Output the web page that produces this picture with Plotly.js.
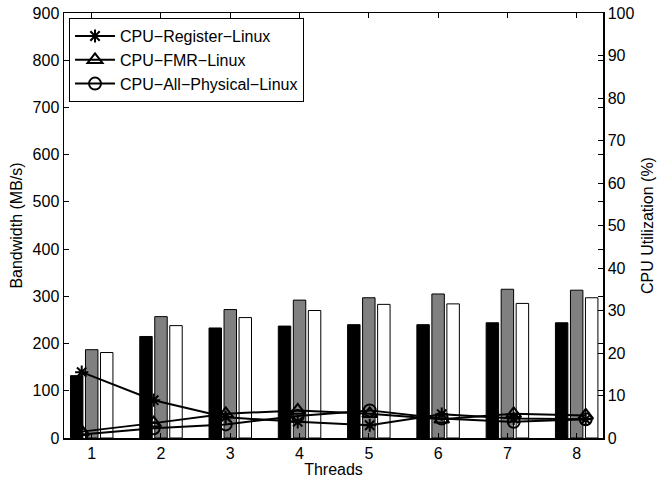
<!DOCTYPE html>
<html>
<head>
<meta charset="utf-8">
<script src="https://cdn.plot.ly/plotly-3.0.1.min.js"></script>
<style>html,body{margin:0;padding:0;background:#fff;}#chart{width:663px;height:479px;}</style>
</head>
<body>
<div id="chart"></div>
<script>
// Data
var threads = [1, 2, 3, 4, 5, 6, 7, 8];
// Bandwidth bars (MB/s)
var bwBlack = [132, 215, 233, 237, 240, 240, 244, 244];
var bwGray  = [187, 257, 272, 292, 297, 305, 315, 313];
var bwWhite = [181, 238, 255, 270, 283, 284, 285, 297];
// CPU utilization lines (%)
var cpuRegister = [15.5, 8.9, 4.9, 3.8, 3.0, 5.6, 4.6, 4.4];
var cpuFMR      = [1.5, 3.5, 5.7, 6.5, 5.7, 4.4, 5.7, 5.3];
var cpuPhysical = [0.8, 2.3, 3.2, 5.2, 6.5, 4.6, 3.8, 4.4];
var seriesNames = ['CPU\u2212Register\u2212Linux', 'CPU\u2212FMR\u2212Linux', 'CPU\u2212All\u2212Physical\u2212Linux'];

var fontFam = 'Liberation Sans, Arial, Helvetica, sans-serif';
var barLine = {color: '#000', width: 1};
var traces = [
  {type: 'bar', x: threads, y: bwBlack, marker: {color: '#000', line: barLine}, showlegend: false, xaxis: 'x', yaxis: 'y', hoverinfo: 'skip'},
  {type: 'bar', x: threads, y: bwGray, marker: {color: '#808080', line: barLine}, showlegend: false, xaxis: 'x', yaxis: 'y', hoverinfo: 'skip'},
  {type: 'bar', x: threads, y: bwWhite, marker: {color: '#ffffff', line: barLine}, showlegend: false, xaxis: 'x', yaxis: 'y', hoverinfo: 'skip'},
  {type: 'scatter', mode: 'lines+markers', name: seriesNames[0], x: threads, y: cpuRegister, xaxis: 'x2', yaxis: 'y2',
   line: {color: '#000', width: 2}, marker: {symbol: 'asterisk-open', size: 11, color: '#000', line: {color: '#000', width: 2}}},
  {type: 'scatter', mode: 'lines+markers', name: seriesNames[1], x: threads, y: cpuFMR, xaxis: 'x2', yaxis: 'y2',
   line: {color: '#000', width: 2}, marker: {symbol: 'triangle-up-open', size: 13, color: '#000', line: {color: '#000', width: 2}}},
  {type: 'scatter', mode: 'lines+markers', name: seriesNames[2], x: threads, y: cpuPhysical, xaxis: 'x2', yaxis: 'y2',
   line: {color: '#000', width: 2}, marker: {symbol: 'circle-open', size: 12, color: '#000', line: {color: '#000', width: 2}}}
];

var layout = {
  width: 663, height: 479,
  margin: {l: 64, r: 60, t: 13, b: 41, pad: 0},
  paper_bgcolor: '#fff', plot_bgcolor: '#fff',
  font: {family: fontFam, size: 16, color: '#000'},
  barmode: 'group', bargap: 0.35, bargroupgap: 0.17,
  showlegend: true,
  legend: {x: 0.0093, y: 0.988, xanchor: 'left', yanchor: 'top', bgcolor: '#fff', bordercolor: '#000', borderwidth: 1,
           font: {family: fontFam, size: 16, color: '#000'}, tracegroupgap: 0, itemwidth: 40},
  xaxis: {range: [0.6, 8.38], tickvals: threads, ticktext: threads.map(String), ticks: 'inside', ticklen: 5, tickcolor: '#000',
          showline: true, linecolor: '#000', linewidth: 1.5, mirror: 'ticks', showgrid: false, zeroline: false,
          tickfont: {size: 16}, title: {text: 'Threads', standoff: 3, font: {family: fontFam, size: 16}}},
  xaxis2: {range: [0.754, 8.24], overlaying: 'x', anchor: 'y', visible: false, showgrid: false, zeroline: false},
  yaxis: {range: [0, 900], dtick: 100, ticks: 'inside', ticklen: 5, tickcolor: '#000', showline: true, linecolor: '#000', linewidth: 1.5,
          mirror: 'ticks', showgrid: false, zeroline: false, tickfont: {size: 16},
          title: {text: 'Bandwidth (MB/s)', standoff: 6, font: {family: fontFam, size: 16}}},
  yaxis2: {range: [0, 100], dtick: 10, overlaying: 'y', side: 'right', anchor: 'x', ticks: 'inside', ticklen: 5, tickcolor: '#000',
           showline: true, linecolor: '#000', linewidth: 1.5, showgrid: false, zeroline: false, tickfont: {size: 16},
           title: {text: 'CPU Utilization (%)', standoff: 8, font: {family: fontFam, size: 16}}}
};

Plotly.newPlot('chart', traces, layout, {displayModeBar: false, staticPlot: true});
</script>
</body>
</html>
